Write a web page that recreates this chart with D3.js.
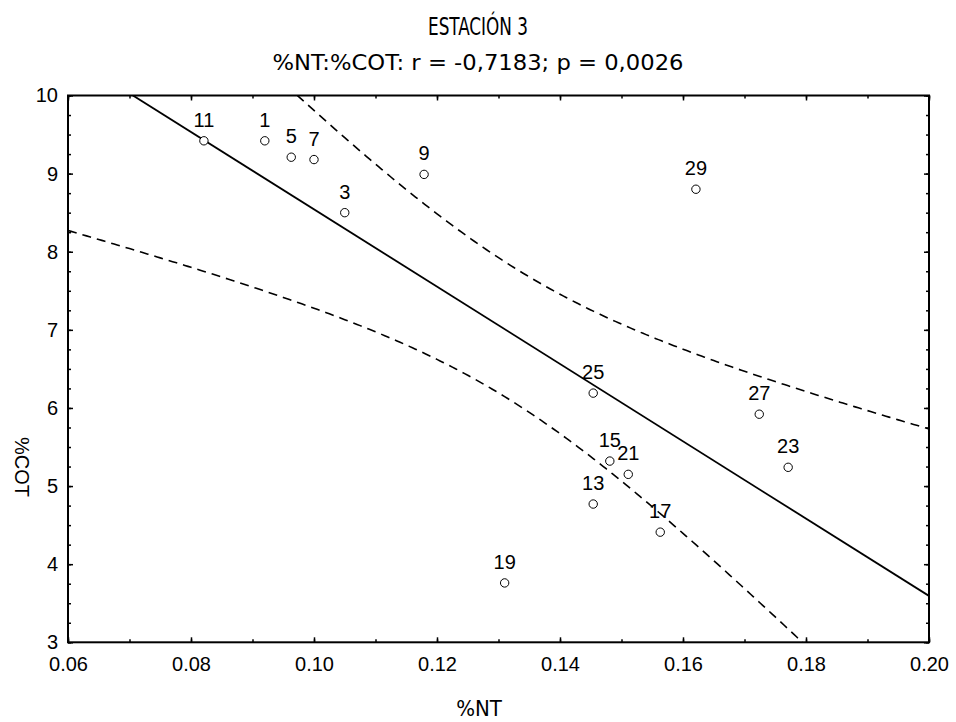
<!DOCTYPE html>
<html>
<head>
<meta charset="utf-8">
<script src="https://cdn.jsdelivr.net/npm/d3@7"></script>
<style>
  html, body { margin: 0; padding: 0; background: #fff; }
  svg { display: block; }
</style>
</head>
<body>
<svg id="chart" width="956" height="722"></svg>
<script>
// ---- data ----
const pointLabels = ["1","3","5","7","9","11","13","15","17","19","21","23","25","27","29"];
const ntValues  = [0.0920,0.1050,0.0963,0.1000,0.1179,0.0821,0.1454,0.1481,0.1563,0.1310,0.1511,0.1771,0.1454,0.1724,0.1621];
const cotValues = [9.42,8.50,9.21,9.18,8.99,9.42,4.77,5.32,4.41,3.76,5.15,5.24,6.19,5.92,8.80];
const xTickValues = [0.06,0.08,0.10,0.12,0.14,0.16,0.18,0.20];
const xTickLabels = ["0.06","0.08","0.10","0.12","0.14","0.16","0.18","0.20"];
const yTickValues = [3,4,5,6,7,8,9,10];
const yTickLabels = ["3","4","5","6","7","8","9","10"];
const titleText = "ESTACIÓN 3";
const subtitleText = "%NT:%COT: r = -0,7183; p = 0,0026";
const xLabel = "%NT";
const yLabel = "%COT";
const tCrit = 2.1604; // t(0.975, df = 13)

// ---- layout ----
const pL = 68, pR = 929, pT = 95.5, pB = 642.3;
const svg = d3.select("#chart");
const x = d3.scaleLinear().domain([0.06, 0.20]).range([pL, pR]);
const y = d3.scaleLinear().domain([3, 10]).range([pB, pT]);
const arial = "'Liberation Sans', Arial, sans-serif";
const gothic = "'DejaVu Sans', 'Liberation Sans', sans-serif";
const narrow = "'Liberation Sans Narrow', 'DejaVu Sans Condensed', 'Liberation Sans', sans-serif";

// ---- regression & confidence band ----
const n = ntValues.length;
const mx = d3.mean(ntValues), my = d3.mean(cotValues);
let sxx = 0, sxy = 0, syy = 0;
for (let i = 0; i < n; i++) {
  const dx = ntValues[i] - mx, dy = cotValues[i] - my;
  sxx += dx * dx; sxy += dx * dy; syy += dy * dy;
}
const slope = sxy / sxx, intercept = my - slope * mx;
const sse = syy - slope * sxy;
const s = Math.sqrt(sse / (n - 2));
const xs = d3.range(0, 281).map(i => 0.06 + i * 0.0005);
const fit = v => intercept + slope * v;
const half = v => tCrit * s * Math.sqrt(1 / n + (v - mx) * (v - mx) / sxx);

svg.append("defs").append("clipPath").attr("id", "clip")
  .append("rect").attr("x", pL).attr("y", pT)
  .attr("width", pR - pL).attr("height", pB - pT);

const plot = svg.append("g").attr("clip-path", "url(#clip)");
const line = d3.line().x(d => x(d[0])).y(d => y(d[1]));

plot.append("path")
  .attr("d", line([[0.06, fit(0.06)], [0.20, fit(0.20)]]))
  .attr("fill", "none").attr("stroke", "#000").attr("stroke-width", 1.8);

plot.append("path")
  .attr("d", line(xs.map(v => [v, fit(v) + half(v)])))
  .attr("fill", "none").attr("stroke", "#000").attr("stroke-width", 1.6)
  .attr("stroke-dasharray", "9,6");
plot.append("path")
  .attr("d", line(xs.map(v => [v, fit(v) - half(v)])))
  .attr("fill", "none").attr("stroke", "#000").attr("stroke-width", 1.6)
  .attr("stroke-dasharray", "9,6");

// ---- axes ----
const xMinor = d3.range(6, 21).map(v => v / 100);
const yMinor = d3.range(12, 41).map(v => v / 4);

function styleAxis(g) {
  g.select(".domain").remove();
  g.selectAll("line").attr("stroke", "#000").attr("stroke-width", 1.5);
  g.selectAll("text").attr("font-family", arial).attr("font-size", 20).attr("fill", "#000");
}

// minor ticks
svg.append("g").attr("transform", `translate(0,${pB})`)
  .call(d3.axisBottom(x).tickValues(xMinor).tickSize(-3).tickFormat(""))
  .call(styleAxis);
svg.append("g").attr("transform", `translate(0,${pT})`)
  .call(d3.axisTop(x).tickValues(xMinor).tickSize(-3).tickFormat(""))
  .call(styleAxis);
svg.append("g").attr("transform", `translate(${pL},0)`)
  .call(d3.axisLeft(y).tickValues(yMinor).tickSize(-3).tickFormat(""))
  .call(styleAxis);
svg.append("g").attr("transform", `translate(${pR},0)`)
  .call(d3.axisRight(y).tickValues(yMinor).tickSize(-3).tickFormat(""))
  .call(styleAxis);

// major ticks
svg.append("g").attr("transform", `translate(0,${pB})`)
  .call(d3.axisBottom(x).tickValues(xTickValues).tickSize(-5).tickPadding(15)
    .tickFormat((d, i) => xTickLabels[i]))
  .call(styleAxis);
svg.append("g").attr("transform", `translate(0,${pT})`)
  .call(d3.axisTop(x).tickValues(xTickValues).tickSize(-5).tickFormat(""))
  .call(styleAxis);
svg.append("g").attr("transform", `translate(${pL},0)`)
  .call(d3.axisLeft(y).tickValues(yTickValues).tickSize(-5).tickPadding(10)
    .tickFormat((d, i) => yTickLabels[i]))
  .call(styleAxis);
svg.append("g").attr("transform", `translate(${pR},0)`)
  .call(d3.axisRight(y).tickValues(yTickValues).tickSize(-5).tickFormat(""))
  .call(styleAxis);

// frame
svg.append("rect").attr("x", pL).attr("y", pT)
  .attr("width", pR - pL).attr("height", pB - pT)
  .attr("fill", "none").attr("stroke", "#000").attr("stroke-width", 2);

// ---- points ----
const pts = svg.append("g");
pointLabels.forEach((lab, i) => {
  pts.append("circle")
    .attr("cx", x(ntValues[i])).attr("cy", y(cotValues[i])).attr("r", 4.2)
    .attr("fill", "#fff").attr("stroke", "#000").attr("stroke-width", 1);
  pts.append("text")
    .attr("x", x(ntValues[i])).attr("y", y(cotValues[i]) - 14)
    .attr("text-anchor", "middle")
    .attr("font-family", arial).attr("font-size", 20).attr("fill", "#000")
    .text(lab);
});

// ---- titles ----
svg.append("text").attr("x", 478).attr("y", 35).attr("text-anchor", "middle")
  .attr("font-family", narrow).attr("font-size", 25).attr("fill", "#000")
  .attr("textLength", 100).attr("lengthAdjust", "spacingAndGlyphs")
  .text(titleText);
svg.append("text").attr("x", 478).attr("y", 70).attr("text-anchor", "middle")
  .attr("font-family", gothic).attr("font-size", 22).attr("fill", "#000")
  .attr("textLength", 411).attr("lengthAdjust", "spacingAndGlyphs")
  .text(subtitleText);
svg.append("text").attr("x", 479).attr("y", 716).attr("text-anchor", "middle")
  .attr("font-family", narrow).attr("font-size", 22).attr("fill", "#000")
  .text(xLabel);
svg.append("text").attr("transform", "translate(15,467) rotate(90)")
  .attr("text-anchor", "middle")
  .attr("font-family", arial).attr("font-size", 20).attr("fill", "#000")
  .text(yLabel);
</script>
</body>
</html>
